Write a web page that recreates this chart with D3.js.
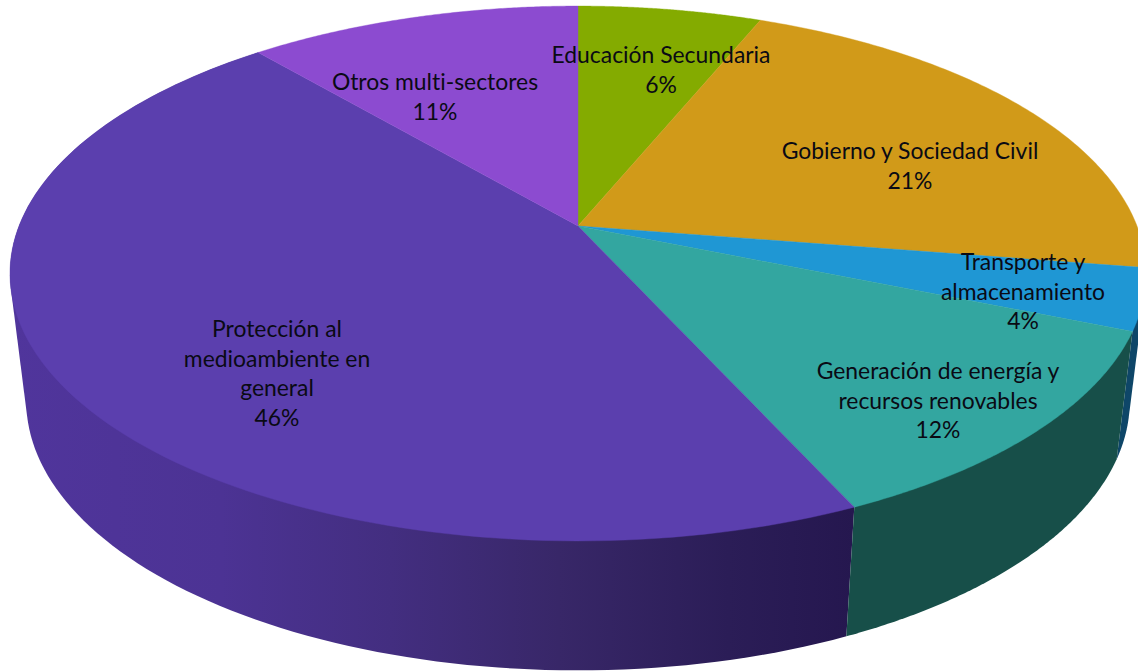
<!DOCTYPE html>
<html><head><meta charset="utf-8">
<script src="https://cdnjs.cloudflare.com/ajax/libs/d3/7.8.5/d3.min.js"></script>
<style>html,body{margin:0;padding:0;background:#fff;overflow:hidden}svg{display:block}text{font-variant-ligatures:none}</style>
</head><body><svg id="c" width="1138" height="671"></svg>
<script>
const categories = ["Educación Secundaria","Gobierno y Sociedad Civil","Transporte y almacenamiento","Generación de energía y recursos renovables","Protección al medioambiente en general","Otros multi-sectores"];
const values = [6.2,21.3,3.7,12.0,45.55,11.25];
const percentLabels = ["6%","21%","4%","12%","46%","11%"];
const labelLines = [["Educación Secundaria"],["Gobierno y Sociedad Civil"],["Transporte y","almacenamiento"],["Generación de energía y","recursos renovables"],["Protección al","medioambiente en","general"],["Otros multi-sectores"]];
const topColors = ["#84ab00","#d19a19","#1f97d4","#33a6a0","#5b3fae","#8c4bd0"];
const sideColors = [null,null,"#0e4668","#174f49","url(#sideGrad)",null];
const labelAnchors = [[661,63],[910,159],[1023,270],[938,379],[277,337],[435,90]];

const W=1138,H=671,k=0.1776;
const topDisc={cx:578,cy:226,A:559,B:259};
const lowDisc={cx:578,cy:353,A:543,B:261};
function project(d,t){
  const y=-Math.cos(t),w=1-k*y;
  return [d.cx+d.A*Math.sin(t)/w,d.cy+(d.B*y)/w];
}
const svg=d3.select("#c");
const defs=svg.append("defs");
const grad=defs.append("linearGradient").attr("id","sideGrad").attr("gradientUnits","userSpaceOnUse")
  .attr("x1",10).attr("x2",855).attr("y1",0).attr("y2",0);
[[0,"#50359c"],[0.25,"#4c3394"],[0.45,"#432e80"],[0.65,"#382768"],[0.85,"#2b1d57"],[1,"#25174f"]]
  .forEach(s=>grad.append("stop").attr("offset",s[0]).attr("stop-color",s[1]));

const pie=d3.pie().sort(null).value(d=>d);
const arcs=pie(values);
const line=d3.line();
const samples=(a,b)=>d3.range(0,121).map(i=>a+(b-a)*i/120);

// sides: the hull of both rims gives the straight silhouette edges; the top face covers the rest
svg.append("g").selectAll("path").data([arcs[2],arcs[4],arcs[3]]).join("path")
  .attr("d",a=>{
    const ts=samples(a.startAngle,a.endAngle);
    return line(d3.polygonHull(ts.map(t=>project(topDisc,t)).concat(ts.map(t=>project(lowDisc,t)))))+"Z";
  })
  .attr("fill",a=>sideColors[a.index]);

// top face
svg.append("g").selectAll("path").data(arcs).join("path")
  .attr("d",a=>{
    const ts=samples(a.startAngle,a.endAngle);
    return line([[topDisc.cx,topDisc.cy]].concat(ts.map(t=>project(topDisc,t))))+"Z";
  })
  .attr("fill",a=>topColors[a.index])
  .attr("stroke",a=>topColors[a.index]).attr("stroke-width",0.4);

// labels
const lh=29.5;
const g=svg.append("g").attr("font-family","Lato, sans-serif").attr("font-size",22.9).attr("fill","#0a0a14").attr("text-anchor","middle");
categories.forEach((c,i)=>{
  const t=g.append("text").attr("data-cat",c);
  labelLines[i].concat(percentLabels[i]).forEach((s,j)=>{
    t.append("tspan").attr("x",labelAnchors[i][0]).attr("y",labelAnchors[i][1]+j*lh).text(s);
  });
});
</script></body></html>
